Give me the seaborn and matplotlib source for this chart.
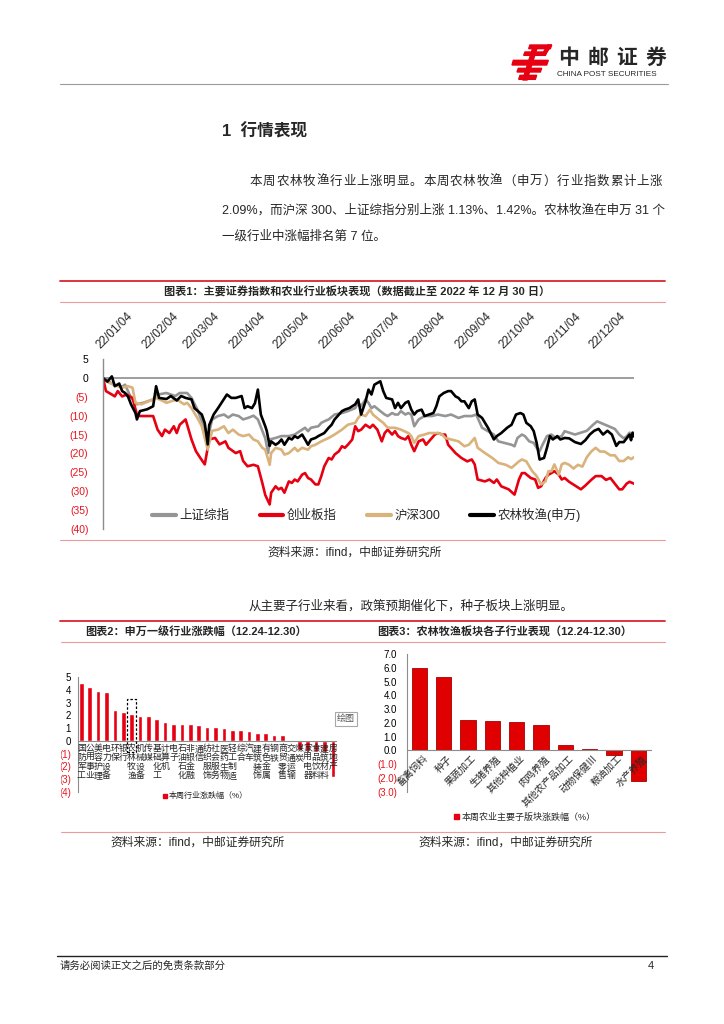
import pandas as pd
import seaborn as sns
import matplotlib.pyplot as plt
from matplotlib.lines import Line2D
from matplotlib.patches import Rectangle, Polygon

# chart 1: cumulative change (%) since 2022-01-04, day offsets
series_names = ['上证综指', '创业板指', '沪深300', '农林牧渔(申万)']
series_colors = ['#959595', '#e60012', '#d9b27c', '#000000']

sh_days = [0, 4, 8, 13, 15, 19, 23, 28, 34, 36,
           43, 49, 52, 57, 60, 64, 67, 71, 74, 78,
           82, 85, 88, 92, 95, 99, 102, 105, 108, 110,
           112, 113, 117, 121, 126, 130, 135, 137, 139, 141,
           146, 148, 150, 153, 157, 162, 166, 171, 173, 175,
           178, 180, 182, 184, 188, 191, 193, 196, 198, 200,
           202, 205, 207, 209, 211, 214, 218, 223, 227, 232,
           236, 241, 245, 250, 253, 257, 261, 265, 268, 272,
           277, 279, 281, 284, 286, 289, 292, 294, 296, 298,
           301, 304, 307, 311, 313, 316, 320, 324, 328, 332,
           335, 338, 341, 344, 347, 350, 353, 355, 357, 359,
           360]
sh_vals = [0, -1, -2, -2.3, -1.8, -5.3, -7, -6.5, -5.7, -4.5,
           -4, -4.8, -4, -4, -5.3, -8.4, -11.5, -15.9, -11, -10.1,
           -9.7, -10.5, -9.7, -10.1, -11, -10.5, -10, -11, -14, -16,
           -19.9, -16.3, -15.9, -15.4, -15.4, -15, -13.7, -13.2, -14.1, -13.2,
           -12.8, -11.9, -11.5, -11, -9.7, -9.3, -8.8, -8, -6.6, -7.5,
           -5.7, -6.6, -8, -7.5, -8.8, -9.7, -10.1, -9.3, -9.7, -9.7,
           -8.8, -9.7, -9.3, -9.7, -12.8, -11, -10.1, -10.1, -9.7, -10.1,
           -9.7, -10.6, -10.1, -10.1, -9.7, -13.2, -14.1, -15, -16.8, -17.2,
           -17.7, -18.1, -15.9, -15, -15.4, -16.8, -17.2, -18.5, -19.4, -17.7,
           -15.4, -15, -15.9, -15.4, -14.1, -14.5, -15, -14.5, -14, -12.5,
           -11.5, -12, -12.5, -13, -13.5, -15, -16, -15.5, -14.5, -15.5,
           -14.5]

cyb_days = [0, 2, 6, 8, 10, 13, 16, 20, 23, 25,
            34, 37, 40, 42, 45, 48, 50, 52, 56, 60,
            63, 66, 69, 72, 76, 79, 83, 85, 90, 93,
            95, 98, 102, 105, 108, 110, 113, 114, 117, 119,
            121, 123, 126, 128, 130, 132, 135, 137, 139, 141,
            144, 146, 148, 150, 153, 155, 157, 160, 162, 164,
            166, 169, 171, 173, 175, 178, 181, 183, 186, 189,
            191, 193, 196, 198, 200, 202, 205, 207, 209, 211,
            214, 217, 219, 223, 225, 227, 230, 232, 234, 239,
            243, 247, 250, 252, 254, 259, 262, 265, 267, 270,
            275, 279, 282, 284, 286, 290, 293, 295, 297, 300,
            302, 304, 306, 309, 311, 313, 316, 320, 324, 327,
            331, 334, 338, 341, 344, 347, 350, 352, 355, 357,
            360]
cyb_vals = [0, -3.5, -4.4, -4.9, -3.5, -4.9, -4.4, -5.3, -9.7, -10.1,
            -10.1, -13.7, -15.4, -13.7, -14.6, -12.8, -14.6, -12.4, -11, -16.3,
            -19.4, -21.2, -22.9, -16.3, -15.9, -17.6, -16.8, -18.5, -19.9, -19.4,
            -22, -23.4, -23, -23.4, -27.8, -31, -33.5, -30.4, -28.7, -29.5,
            -29.1, -30.4, -27.4, -27.8, -26.9, -27.4, -25.6, -25.2, -26.5, -26.9,
            -28.2, -28.2, -26, -23.4, -21.2, -21.6, -20.3, -19.4, -18.1, -18.5,
            -17.7, -16.3, -12.8, -14.1, -13.7, -12.4, -13.2, -12.4, -13.7, -16.8,
            -14.6, -13.7, -15, -14.1, -15.4, -15.9, -16.3, -15.4, -17.7, -19.4,
            -16.8, -16.3, -17.7, -15.9, -15, -14.6, -15, -15, -17.7, -19.9,
            -21.2, -22.1, -21.6, -22.9, -26.9, -27.4, -26.9, -27.8, -26.9, -28.7,
            -29.5, -30.9, -26.9, -25.2, -25.2, -26.5, -26.9, -29.1, -28.7, -26.5,
            -25.6, -25.2, -24.7, -25.6, -26.9, -26.5, -27.5, -28.5, -29.5, -28.5,
            -27, -26, -26, -27, -26.5, -28, -29.5, -29.5, -28, -27.5,
            -28]

hs_days = [0, 4, 8, 13, 17, 20, 22, 26, 34, 36,
           41, 43, 50, 55, 57, 60, 64, 67, 71, 74,
           78, 82, 85, 88, 92, 95, 99, 102, 105, 108,
           110, 113, 114, 117, 121, 123, 126, 130, 132, 135,
           139, 141, 144, 148, 153, 157, 162, 166, 171, 173,
           175, 178, 181, 183, 187, 190, 193, 198, 202, 207,
           209, 211, 214, 218, 221, 224, 227, 230, 232, 236,
           241, 245, 248, 250, 252, 254, 259, 264, 268, 273,
           277, 282, 284, 287, 291, 294, 297, 300, 302, 304,
           306, 309, 311, 313, 316, 319, 322, 325, 328, 331,
           334, 337, 340, 344, 347, 350, 353, 356, 358, 360]
hs_vals = [0, -1.3, -1.8, -2.6, -2.2, -2.6, -6.6, -7, -5.7, -5.3,
           -6.2, -6.6, -5.7, -7, -6.6, -8, -10.6, -12.8, -19, -14,
           -13.7, -12.8, -14.6, -13.7, -15, -15.4, -15, -16.3, -16.8, -18.5,
           -19, -23, -19.9, -18.5, -19, -20.3, -19.9, -18.5, -19.4, -18.5,
           -19, -18.1, -17.7, -16.8, -15.9, -15, -13.7, -12.4, -11.9, -10.6,
           -9.7, -10.1, -8.4, -9.7, -11, -11.9, -13.2, -13.2, -13.7, -14.6,
           -15.4, -17.2, -15.4, -15, -14.6, -14.6, -14.6, -15, -15.9, -16.3,
           -16.8, -18.1, -17.7, -16.8, -15.9, -18.5, -19.9, -21.2, -22.5, -23,
           -23.8, -22.1, -21.6, -22.1, -24.7, -26, -28.2, -27.4, -24.7, -24.7,
           -22.9, -25.6, -22.9, -22.5, -23, -24, -23, -23.5, -21, -19.5,
           -18.5, -19.5, -19.5, -20.5, -20.5, -22, -22, -21, -21.5, -21]

nl_days = [0, 3, 6, 8, 11, 13, 15, 17, 19, 22,
           23, 25, 30, 34, 36, 38, 43, 46, 50, 53,
           56, 60, 62, 67, 69, 71, 72, 75, 78, 81,
           84, 87, 90, 94, 96, 98, 101, 103, 105, 107,
           110, 111, 113, 114, 117, 119, 121, 123, 126, 128,
           130, 132, 135, 137, 139, 141, 144, 146, 148, 150,
           153, 155, 157, 160, 162, 164, 167, 171, 173, 175,
           178, 180, 182, 184, 188, 190, 192, 196, 198, 200,
           202, 205, 207, 209, 211, 213, 216, 218, 221, 224,
           226, 228, 231, 234, 236, 239, 241, 243, 245, 248,
           250, 252, 254, 257, 259, 261, 265, 267, 270, 274,
           277, 280, 283, 285, 287, 290, 292, 294, 296, 299,
           301, 303, 305, 308, 310, 313, 316, 320, 324, 327,
           330, 333, 336, 339, 342, 345, 348, 350, 353, 355,
           357, 358, 359, 360]
nl_vals = [0, -1, 0.4, -2.2, -1.5, -3.5, -4, -5, -7, -9.3,
           -11, -8.8, -8.3, -7.5, -2.2, -5.3, -5.6, -4.8, -6, -4.8,
           -5.3, -5.7, -8, -9.7, -12, -17.6, -12.5, -9.7, -8, -6.2,
           -4.4, -5.3, -5.3, -4.8, -8, -7.5, -8, -6.7, -3.1, -9.7,
           -12.8, -14, -18, -16.8, -17.7, -17.2, -16.3, -17.7, -15.9, -16.3,
           -15.4, -15.9, -15, -16.3, -17.7, -16.3, -15.9, -15.4, -15, -14.6,
           -13.2, -12.4, -11, -9.7, -8.8, -8.4, -8, -7, -5.7, -9.7,
           -6.2, -3.1, -4.4, -1.8, -0.9, -3.5, -5.3, -5.7, -8, -6.6,
           -8, -6.6, -6.2, -8.4, -9.7, -8.8, -8.4, -10.1, -9.7, -9.3,
           -7.5, -4.9, -4, -3.5, -3.5, -4.9, -5.3, -6.2, -6.2, -8,
           -6.2, -5.7, -9.7, -10.6, -11.9, -13.2, -16.3, -15.4, -14.6, -13.2,
           -12.4, -9.7, -9.3, -9.7, -11.9, -12.8, -14.1, -17.2, -21.6, -21.2,
           -18.5, -15.4, -16.3, -15.4, -16.3, -15.9, -16, -17, -17.5, -16.5,
           -15, -14, -13.5, -15, -14, -15, -18, -17, -17, -16,
           -15, -16.5, -14.5, -15.5]

date_ticks = ['2022-%02d-04' % m for m in range(1, 13)]
y1_ticks = [5, 0, -5, -10, -15, -20, -25, -30, -35, -40]

# chart 2: Shenwan level-1 industries, weekly change (%)
sw_names = ['国防军工', '公用事业', '美容护理', '电力设备', '环保', '银行', '农林牧渔',
            '机械设备', '传媒', '基础化工', '计算机', '电子', '石油石化', '非银金融',
            '通信', '纺织服饰', '社会服务', '医药生物', '轻工制造', '综合', '汽车',
            '建筑装饰', '有色金属', '钢铁', '商贸零售', '交通运输', '煤炭', '家用电器',
            '食品饮料', '建筑材料', '房地产']
sw_chg = [4.53, 4.2, 3.9, 3.85, 2.4, 2.3, 2.09, 1.95, 1.95, 1.7, 1.45, 1.3, 1.3,
          1.3, 1.23, 1.1, 1.08, 1.0, 0.85, 0.83, 0.75, 0.62, 0.6, 0.47, 0.45, 0.08,
          -0.75, -0.8, -0.85, -0.9, -2.8]
y2_ticks = [5, 4, 3, 2, 1, 0, -1, -2, -3, -4]

# chart 3: agriculture sub-industries, weekly change (%)
sub_names = ['畜禽饲料', '种子', '果蔬加工', '生猪养殖', '其他种植业', '肉鸡养殖',
             '其他农产品加工', '动物保健Ⅲ', '粮油加工', '水产养殖']
sub_chg = [5.96, 5.35, 2.24, 2.14, 2.09, 1.87, 0.41, 0.07, -0.3, -2.24]
y3_ticks = [7, 6, 5, 4, 3, 2, 1, 0, -1, -2, -3]

RED = '#e60012'
NEG = '#e8141e'
GREY = '#8c8c8c'
LINE_RED = '#d9252f'
SOFT_RED = '#ec9a9a'

sns.set_style('white')
plt.rcParams['font.family'] = ['Liberation Sans', 'Noto Sans CJK SC', 'DejaVu Sans']
plt.rcParams['axes.unicode_minus'] = False

W, H = 724, 1024
fig = plt.figure(figsize=(W / 100, H / 100), dpi=100)


def fx(x):
    return x / W


def fy(y):
    return 1 - y / H


def box(x0, y0, x1, y1):
    return [x0 / W, 1 - y1 / H, (x1 - x0) / W, (y1 - y0) / H]


def hline(x0, x1, y, color, lw):
    fig.add_artist(Line2D([fx(x0), fx(x1)], [fy(y), fy(y)], color=color, lw=lw))


def text(x, y, s, size, **kw):
    fig.text(fx(x), fy(y), s, fontsize=size, va='center', **kw)


def justify(x0, x1, y, s, size):
    step = (x1 - x0) / len(s)
    for i, ch in enumerate(s):
        fig.text(fx(x0 + step * (i + 0.5)), fy(y), ch, fontsize=size, ha='center', va='center')


def paren(v, fmt):
    return fmt % v if v >= 0 else '(' + fmt % -v + ')'


# header
logo = [[(150, 75), (215, 75), (211, 86), (146, 86)],
        [(135, 96), (200, 96), (196, 106), (131, 106)],
        [(100, 121), (205, 121), (200, 135), (96, 135)],
        [(115, 145), (185, 145), (181, 156), (111, 156)],
        [(120, 166), (170, 166), (166, 178), (116, 178)],
        [(160, 78), (173, 78), (141, 180), (128, 180)],
        [(203, 75), (215, 75), (196, 104), (186, 104)]]
for poly in logo:
    pts = [(fx(480 + a / 3), fy(20 + b / 3)) for a, b in poly]
    fig.add_artist(Polygon(pts, closed=True, color=RED, transform=fig.transFigure))
for i, ch in enumerate('中邮证券'):
    text(568.5 + i * 29, 58, ch, 15, ha='center', fontweight='bold')
text(557, 75, 'CHINA POST SECURITIES', 5.9)
hline(60, 668, 84, '#9a9a9a', 0.8)

# section text
text(222, 131, '1  行情表现', 12, fontweight='bold')
justify(249, 663, 182, '本周农林牧渔行业上涨明显。本周农林牧渔（申万）行业指数累计上涨', 9)
text(222, 210, '2.09%，而沪深 300、上证综指分别上涨 1.13%、1.42%。农林牧渔在申万 31 个', 9)
text(222, 237, '一级行业中涨幅排名第 7 位。', 9)

# chart 1 frame
hline(60, 665, 281, LINE_RED, 1.3)
text(357, 292, '图表1：主要证券指数和农业行业板块表现（数据截止至 2022 年 12 月 30 日）', 8,
     ha='center', fontweight='bold')
hline(60, 665, 302, SOFT_RED, 0.8)
hline(60, 665, 540, SOFT_RED, 0.8)
text(267, 553, '资料来源：ifind，中邮证券研究所', 8.5)

base = pd.Timestamp('2022-01-04')
frames = []
for name, days, vals in zip(series_names,
                            [sh_days, cyb_days, hs_days, nl_days],
                            [sh_vals, cyb_vals, hs_vals, nl_vals]):
    frames.append(pd.DataFrame({'date': base + pd.to_timedelta(days, unit='D'),
                                'value': vals, 'series': name}))
df1 = pd.concat(frames, ignore_index=True)

ax1 = fig.add_axes(box(103, 359, 634, 529))
ax1.axhline(0, color=GREY, lw=1.2, zorder=0)
sns.lineplot(data=df1, x='date', y='value', hue='series', hue_order=series_names,
             palette=dict(zip(series_names, series_colors)), linewidth=1.9,
             estimator=None, legend=False, ax=ax1)
ax1.set_xlim(base, pd.Timestamp('2022-12-30'))
ax1.set_ylim(-40, 5)
ax1.set_xlabel('')
ax1.set_ylabel('')
ax1.xaxis.tick_top()
ax1.set_xticks(pd.to_datetime(date_ticks))
ax1.set_xticklabels([d[2:4] + '/' + d[5:7] + '/' + d[8:] for d in date_ticks],
                    rotation=45, ha='left', va='bottom', rotation_mode='anchor')
ax1.tick_params(axis='x', length=0, pad=6, labelsize=8.5)
ax1.set_yticks(y1_ticks)
ax1.set_yticklabels([paren(v, '%d') for v in y1_ticks])
ax1.tick_params(axis='y', length=0, pad=10.5, labelsize=7.5)
for lab, v in zip(ax1.get_yticklabels(), y1_ticks):
    lab.set_color(NEG if v < 0 else 'black')
for side in ['top', 'right', 'bottom']:
    ax1.spines[side].set_visible(False)
ax1.spines['left'].set_color(GREY)
ax1.spines['left'].set_linewidth(1)
handles = [Line2D([], [], color=c, lw=3) for c in series_colors]
ax1.legend(handles, series_names, loc='center left', ncol=4, frameon=False, fontsize=9,
           bbox_to_anchor=((152 - 103) / 531, (529 - 515) / 170), borderaxespad=0,
           borderpad=0, handlelength=1.9, handletextpad=0.3, columnspacing=2.4)

# bridging text
text(249, 606, '从主要子行业来看，政策预期催化下，种子板块上涨明显。', 9)

# charts 2 and 3 frame
hline(60, 665, 621, LINE_RED, 1.3)
text(85, 631, '图表2：申万一级行业涨跌幅（12.24-12.30）', 8, fontweight='bold')
text(377, 631, '图表3：农林牧渔板块各子行业表现（12.24-12.30）', 8, fontweight='bold')
hline(60, 665, 642, SOFT_RED, 0.8)
hline(60, 665, 832, SOFT_RED, 0.8)
text(110, 843, '资料来源：ifind，中邮证券研究所', 8.5)
text(418, 843, '资料来源：ifind，中邮证券研究所', 8.5)

# chart 2
ax2 = fig.add_axes(box(78, 677, 337, 792))
sns.barplot(x=sw_names, y=sw_chg, order=sw_names, color=RED, saturation=1, width=0.55,
            errorbar=None, ax=ax2)
ax2.axhline(0, color=GREY, lw=0.8)
ax2.set_xlim(-0.4, 30.5)
ax2.set_ylim(-4, 5)
ax2.set_xticks([])
ax2.set_xlabel('')
ax2.set_yticks(y2_ticks)
ax2.set_yticklabels([paren(v, '%d') for v in y2_ticks])
ax2.tick_params(axis='y', length=0, pad=5, labelsize=7)
for lab, v in zip(ax2.get_yticklabels(), y2_ticks):
    lab.set_color(NEG if v < 0 else 'black')
for side in ['top', 'right', 'bottom']:
    ax2.spines[side].set_visible(False)
ax2.spines['left'].set_color(GREY)
ax2.spines['left'].set_linewidth(0.8)
for i, name in enumerate(sw_names):
    ax2.annotate('\n'.join(name), xy=(i, 0), xytext=(0, -2.5), textcoords='offset points',
                 ha='center', va='top', fontsize=6.4, linespacing=1.0)
ax2.add_patch(Rectangle((6 - 0.55, -0.9), 1.1, 4.2, fill=False, ec='black', lw=0.9,
                        ls=(0, (2, 1.5)), zorder=5, clip_on=False))
fig.add_artist(Rectangle((fx(0), fy(835)), fx(59.5), 195 / H, transform=fig.transFigure,
                         color='white', zorder=5))
fig.add_artist(Rectangle((fx(335), fy(726)), 22 / W, 14 / H, transform=fig.transFigure,
                         fill=False, ec='#a8a8a8', lw=0.8))
text(337, 719, '绘图', 6.5, color='#555555')
fig.add_artist(Rectangle((fx(163), fy(798)), 4 / W, 4 / H, transform=fig.transFigure,
                         color=RED))
text(169, 796, '本周行业涨跌幅（%）', 5.8)

# chart 3
ax3 = fig.add_axes(box(406.7, 654, 651.7, 791.7))
sns.barplot(x=sub_names, y=sub_chg, order=sub_names, color='#e00000', saturation=1,
            width=0.62, errorbar=None, edgecolor='#a50000', linewidth=0.6, ax=ax3)
ax3.axhline(0, color=GREY, lw=0.8)
ax3.set_xlim(-0.52, 9.55)
ax3.set_ylim(-3, 7)
ax3.set_xticks([])
ax3.set_xlabel('')
ax3.set_yticks(y3_ticks)
ax3.set_yticklabels([paren(v, '%.1f') for v in y3_ticks])
ax3.tick_params(axis='y', length=2.5, direction='in', color=GREY, pad=7, labelsize=7)
for lab, v in zip(ax3.get_yticklabels(), y3_ticks):
    lab.set_color(NEG if v < 0 else 'black')
for side in ['top', 'right', 'bottom']:
    ax3.spines[side].set_visible(False)
ax3.spines['left'].set_color(GREY)
ax3.spines['left'].set_linewidth(0.8)
for i, name in enumerate(sub_names):
    ax3.annotate(name, xy=(i, 0), xytext=(4.7, -4.7), textcoords='offset points',
                 ha='right', va='center', rotation=45, rotation_mode='anchor', fontsize=7)
fig.add_artist(Rectangle((fx(454), fy(819)), 5 / W, 5 / H, transform=fig.transFigure,
                         color=RED))
text(462, 817, '本周农业主要子版块涨跌幅（%）', 6.5)

# footer
hline(57, 667, 956, '#222222', 1.0)
text(60, 966, '请务必阅读正文之后的免责条款部分', 7.5)
text(648, 966, '4', 8)

fig.savefig('out.png', dpi=100)
